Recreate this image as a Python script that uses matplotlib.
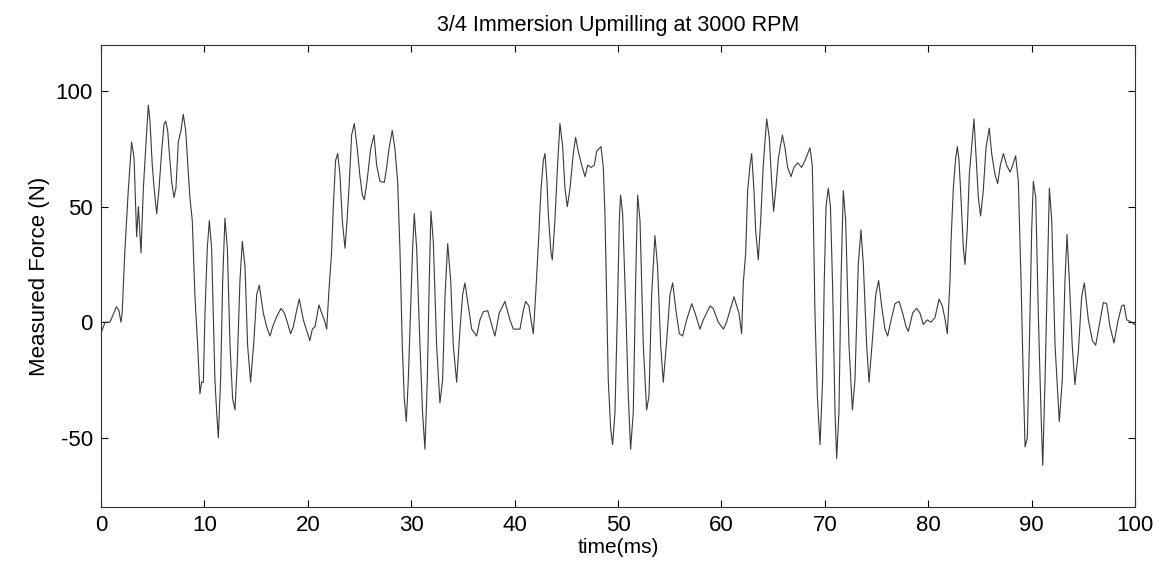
import matplotlib
matplotlib.use("Agg")
import matplotlib.pyplot as plt

time_ms = [
    0.0, 0.4, 0.87, 1.5, 1.74, 1.93, 2.05, 2.3, 2.64, 2.96, 3.2, 3.45, 3.62, 3.87, 4.1, 4.32, 4.58, 4.74,
    4.96, 5.16, 5.39, 5.6, 5.87, 6.09, 6.25, 6.45, 6.58, 6.83, 7.06, 7.25, 7.48, 7.74, 7.96, 8.19, 8.6,
    8.83, 9.09, 9.35, 9.57, 9.73, 9.9, 10.06, 10.28, 10.48, 10.7, 11.02, 11.19, 11.35, 11.57, 11.77,
    11.99, 12.22, 12.48, 12.73, 12.96, 13.18, 13.44, 13.67, 13.93, 14.18, 14.47, 14.79, 15.06, 15.31,
    15.7, 16.02, 16.35, 16.6, 16.99, 17.41, 17.73, 18.02, 18.34, 18.6, 18.92, 19.18, 19.57, 20.2, 20.44,
    20.7, 21.08, 21.34, 21.6, 21.83, 22.05, 22.3, 22.47, 22.69, 22.89, 23.11, 23.34, 23.6, 23.8, 24.02,
    24.24, 24.5, 24.79, 25.05, 25.28, 25.47, 25.73, 26.08, 26.4, 26.66, 26.98, 27.4, 27.63, 27.85, 28.17,
    28.43, 28.69, 28.91, 29.14, 29.33, 29.53, 29.72, 29.98, 30.14, 30.3, 30.53, 30.85, 31.1, 31.33,
    31.56, 31.75, 31.91, 32.14, 32.46, 32.78, 33.04, 33.27, 33.53, 33.82, 34.07, 34.4, 34.72, 34.98,
    35.2, 35.52, 35.85, 36.33, 36.65, 36.97, 37.4, 37.78, 38.1, 38.52, 39.07, 39.55, 39.88, 40.52,
    40.84, 41.07, 41.39, 41.59, 41.81, 42.04, 42.3, 42.55, 42.78, 42.94, 43.13, 43.26, 43.52, 43.65,
    43.9, 44.16, 44.39, 44.65, 44.87, 45.1, 45.36, 45.68, 45.9, 46.16, 46.49, 46.81, 47.07, 47.39,
    47.71, 47.94, 48.36, 48.58, 48.74, 48.9, 49.06, 49.29, 49.48, 49.71, 49.94, 50.13, 50.25, 50.45,
    50.77, 51.0, 51.22, 51.48, 51.71, 51.9, 52.13, 52.45, 52.77, 53.0, 53.25, 53.57, 53.83, 54.13,
    54.38, 54.71, 55.03, 55.29, 55.61, 55.93, 56.25, 56.64, 57.13, 57.45, 57.93, 58.25, 58.9, 59.2,
    59.7, 60.2, 60.5, 60.83, 61.22, 61.48, 61.7, 61.96, 62.12, 62.35, 62.54, 62.77, 62.93, 63.15, 63.31,
    63.57, 63.8, 64.05, 64.38, 64.63, 64.86, 65.05, 65.25, 65.51, 65.9, 66.15, 66.41, 66.73, 67.02,
    67.38, 67.76, 68.09, 68.57, 68.79, 68.89, 69.05, 69.28, 69.54, 69.79, 69.95, 70.12, 70.34, 70.55,
    70.76, 70.99, 71.15, 71.37, 71.57, 71.79, 72.02, 72.34, 72.67, 72.92, 73.24, 73.5, 73.73, 74.05,
    74.28, 74.6, 74.93, 75.21, 75.5, 75.82, 76.08, 76.47, 76.79, 77.18, 77.53, 77.86, 78.08, 78.5,
    78.88, 79.2, 79.53, 79.9, 80.27, 80.66, 81.05, 81.37, 81.6, 81.85, 82.11, 82.21, 82.43, 82.66,
    82.82, 82.98, 83.17, 83.4, 83.56, 83.78, 83.98, 84.2, 84.43, 84.62, 84.85, 85.07, 85.33, 85.59,
    85.91, 86.14, 86.46, 86.72, 86.98, 87.27, 87.59, 87.92, 88.18, 88.46, 88.72, 88.98, 89.2, 89.37,
    89.59, 89.85, 90.01, 90.17, 90.4, 90.65, 90.91, 91.08, 91.3, 91.52, 91.72, 91.95, 92.27, 92.68,
    92.97, 93.23, 93.43, 93.65, 93.93, 94.19, 94.52, 94.84, 95.1, 95.49, 95.88, 96.2, 96.52, 96.94,
    97.26, 97.59, 97.97, 98.33, 98.71, 98.94, 99.2, 99.68, 99.94,
]

force_n = [
    -4.7, 0, 0, 6.7, 5, 0, 4, 30, 57, 78, 71, 37, 50, 30, 58, 75, 94, 87,
    68, 57, 47, 57, 74, 85.5, 87, 83, 75, 61, 54, 58, 78, 83, 90, 83, 54,
    44, 11, -10, -31, -26, -26, 4, 32, 44, 32, -25, -39, -50, -25, 18,
    45, 32, -10, -33, -38, -18, 18, 35, 24, -10, -26, -8, 12, 16,
    4, -2, -6, -2, 2.4, 6, 4, 0, -5, -2, 5, 10, 1, -8, -3,
    -2, 7.5, 4, 1, -3, 14, 30, 50, 70, 73, 64, 44, 32, 44, 61,
    81, 86, 75, 63, 55, 53, 61, 75, 81, 68, 61, 60.5, 67, 75, 83,
    75, 61, 32, -10, -33, -43, -25, 11, 32, 47, 32, -10, -39, -55,
    -25, 18, 48, 35, -10, -35, -25, 11, 34, 18, -10, -26, -3, 12,
    17, 7, -3, -6, 1, 4.5, 5, -1, -6, 4, 9, 1, -3, -3,
    5, 9, 7, 1, -5, 12, 34, 57, 70, 73, 61, 47, 30, 27,
    44, 68, 86, 76, 58, 50, 58, 73, 80, 74, 68, 63, 68, 67,
    68, 74, 76, 67, 47, 11, -25, -46, -53, -39, 4, 44, 55, 47,
    4, -32, -55, -39, 18, 55, 44, -10, -38, -32, 11, 37.5, 24, -10,
    -26, -8, 12, 17, 5, -5, -6, 1, 8, 4, -3, 1, 7, 6,
    0, -3, 0, 5, 11, 7, 4, -5, 17, 30, 57, 68, 73, 57, 40,
    27, 44, 68, 88, 80, 61, 48, 57, 71, 81, 75.5, 67, 63, 67,
    69, 67, 70, 75.5, 68, 47, 4, -32, -53, -25, 18, 50, 58, 50,
    15, -39, -59, -39, 18, 57, 44, -10, -38, -25, 25, 40, 25, -10,
    -26, -8, 12, 18, 7, -3, -6, 2, 8, 9, 4, -2, -4, 4,
    6, 4, -1, 1, 0, 2, 10, 7, 2, -5, 18, 35, 58, 71,
    76, 70, 54, 32, 25, 40, 64, 75.5, 88, 73, 54, 46, 57, 75.5,
    84, 73, 64, 60, 68, 73, 68, 65, 68, 72, 61, 18, -25, -54,
    -50, 4, 40, 61, 54, 4, -39, -62, -25, 18, 58, 44, -10, -43,
    -25, 18, 38, 18, -10, -27, -13, 11, 17, 1, -8, -10, -2, 8.5,
    8, -2, -9, 0, 7, 7.5, 1, 0, -1,
]

x_ticks = [0, 10, 20, 30, 40, 50, 60, 70, 80, 90, 100]
y_ticks = [-50, 0, 50, 100]

plt.rcParams['font.family'] = ['Liberation Sans', 'DejaVu Sans']
plt.rcParams['axes.unicode_minus'] = False

fig = plt.figure(figsize=(11.66, 5.73), dpi=100)
ax = fig.add_axes([0.0866, 0.1152, 0.8868, 0.8063])
ax.plot(time_ms, force_n, color='#3a3a3a', linewidth=0.8)
ax.set_xlim(0, 100)
ax.set_ylim(-80, 120)
ax.set_xticks(x_ticks)
ax.set_yticks(y_ticks)
ax.tick_params(direction='in', top=True, right=True, labelsize=16, length=5, width=0.8, pad=6)
for s in ax.spines.values():
    s.set_linewidth(0.8)
    s.set_color('#333333')
ax.set_xlabel('time(ms)', fontsize=15, labelpad=1)
ax.set_ylabel('Measured Force (N)', fontsize=16, labelpad=4)
ax.set_title('3/4 Immersion Upmilling at 3000 RPM', fontsize=15.5, pad=10)

fig.savefig('out.png', dpi=100)
